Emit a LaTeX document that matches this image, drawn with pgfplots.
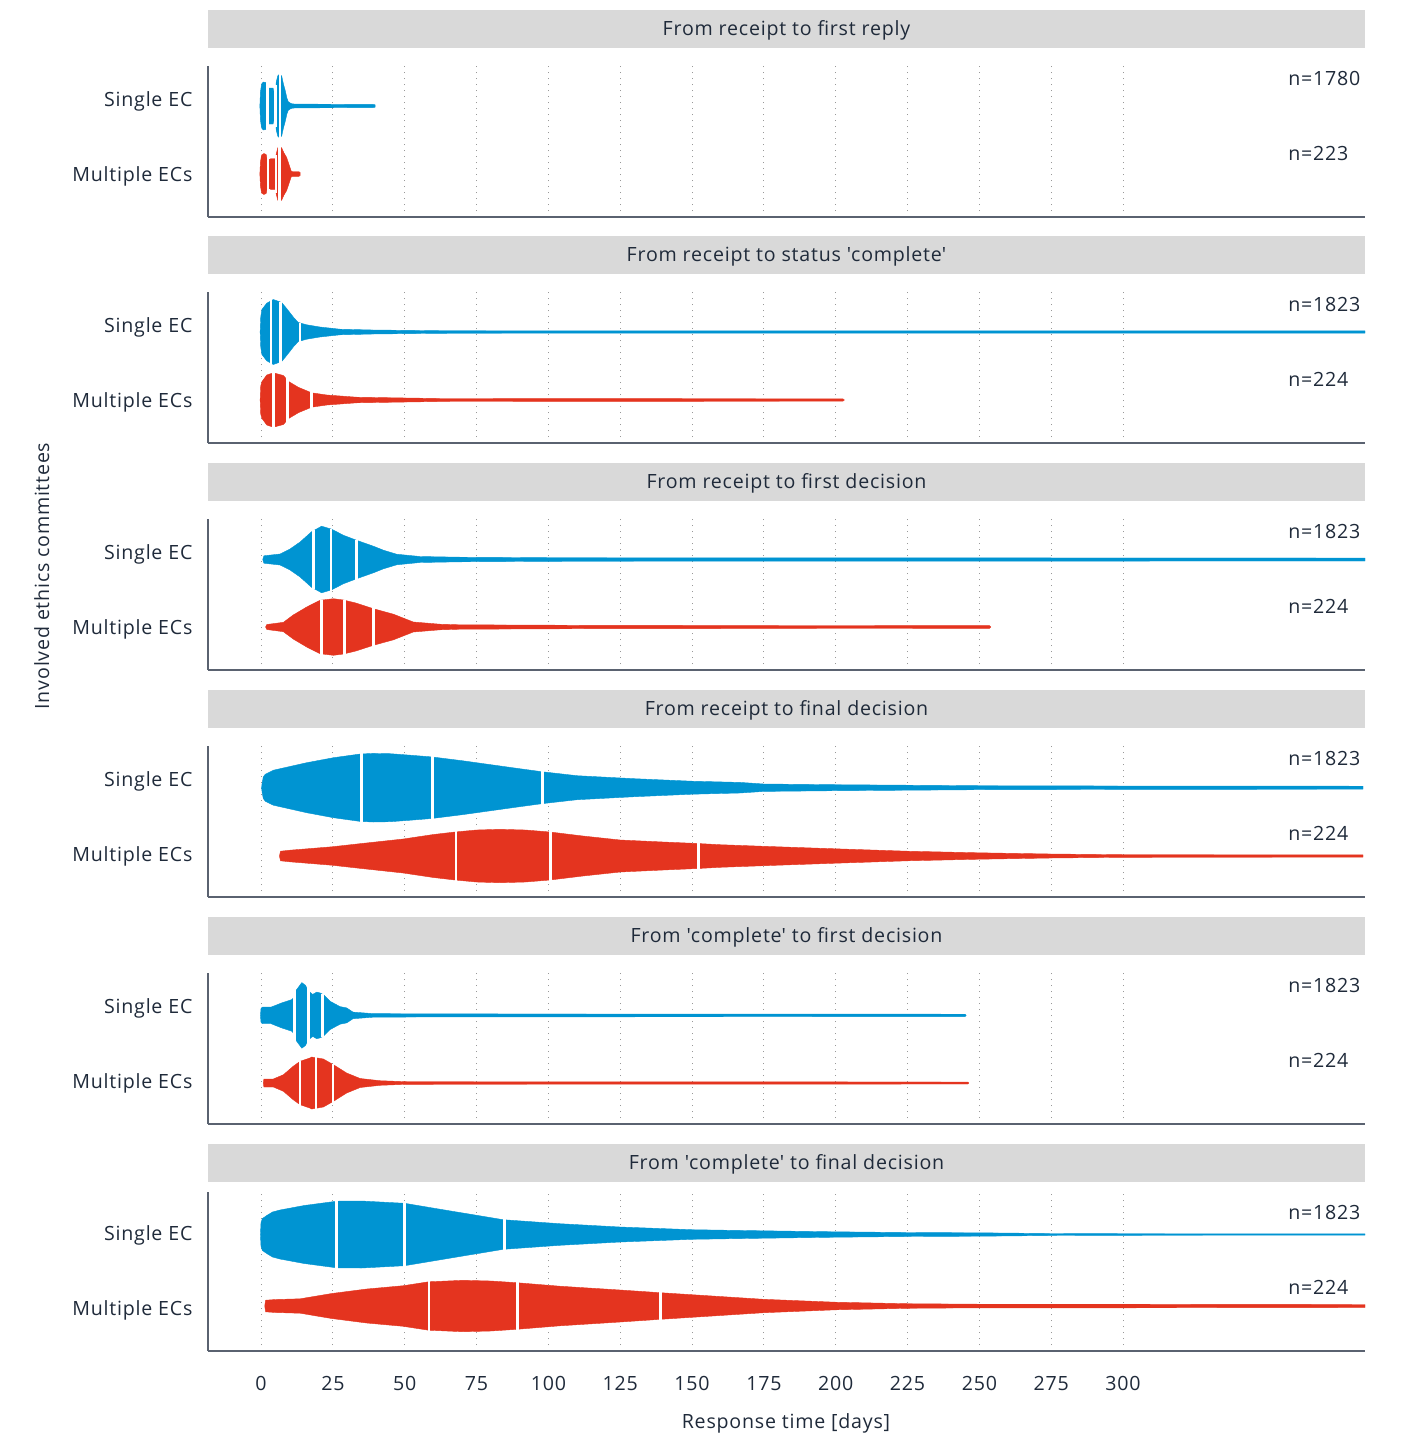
\documentclass[border=0pt]{standalone}
\usepackage{fontspec}
\setmainfont{Open Sans}[LetterSpace=4]
\usepackage{pgfplots}
\usepackage{pgfplotstable}
\pgfplotsset{compat=1.18}
\usepgfplotslibrary{fillbetween}

\definecolor{ecblue}{HTML}{0094D2}
\definecolor{ecred}{HTML}{E4341F}
\definecolor{txt}{HTML}{1F2A3A}
\definecolor{strip}{HTML}{D9D9D9}
\definecolor{axc}{HTML}{5A6270}

% half-widths of the violins (w) against response time in days (x)
\pgfplotstableread{
x w
-0.4 0
-0.2 14
0.2 22
0.8 24
1.6 23.5
2.1 21
2.3 18
4.2 18
4.5 14
5.0 14
5.3 24
5.8 30
6.5 32
7.2 30
7.8 22
8.4 15.8
9.0 8
9.5 4.2
10.5 2.4
11.5 2
20 1.8
39 1.6
39.7 1.2
}\vAb
\pgfplotstableread{
x w
-0.4 0
-0.2 12
0.2 19
1.0 20.5
1.8 19.5
2.1 15
3.0 14.7
3.4 15.3
5.0 15.3
5.3 20
5.8 26
6.5 28
7.2 26
8.0 21
8.9 16.7
9.8 9
10.5 3
11.0 2.3
13.2 2.3
13.6 1.5
}\vAr
\pgfplotstableread{
x w
-0.3 0
-0.1 15
0.3 22.5
2.0 28.8
4.3 32.5
7.2 29.5
8.5 25
10.1 19.2
11.5 14
13.0 9.5
15.9 7.2
20.5 5
27.5 2.8
39 2
62 1.3
100 1.2
384.2 1.2
}\vBb
\pgfplotstableread{
x w
-0.3 0
-0.1 14
0.3 18.3
2.0 25
4.3 27.2
7.8 24.5
9.5 18.7
13 12.7
17.6 7.2
22.9 5
33.3 2.8
50.7 2
62.3 1.5
150 1.3
202.5 1.2
203 0
}\vBr
\pgfplotstableread{
x w
0.6 0
1 3.7
6.6 5.5
10 10.3
13.6 17.5
17.6 27.8
21.1 33.3
24.6 30.3
28.7 24.2
33.3 19.2
39.1 13.3
42.6 9.3
47.2 5.3
55.3 3
69.3 2.3
100 1.8
200 1.6
384.2 1.5
}\vCb
\pgfplotstableread{
x w
1.6 0
2 2.5
7.8 4.7
11.2 12
15.9 20
20.5 26.7
25.2 28.3
28.7 27
33 24
39.1 18.3
46.1 12.8
53 5
62.3 2.8
69.3 2.2
120 1.6
253.5 1.4
254 0
}\vCr
\pgfplotstableread{
x w
0.2 0
0.4 5
0.8 10.8
1.5 13.5
4.3 17.5
15.9 25
25.2 30
34.5 33.7
39 34.3
45 34
52 32.5
59.4 30.8
70 27
80 23
90 19
97.7 16
110 12
130 9
150 6.5
166.7 5.3
175 3.7
200 3
250 2
300 1.7
383.5 1.5
}\vDb
\pgfplotstableread{
x w
6.4 0
6.8 4.8
10 5.8
24.6 9.2
35 12.5
49.5 17
60 21.5
67.5 24
75 26
83 26.7
92 26
100.6 24
112 20
125 16
140 14
152 12.5
159.8 11.3
175 9.7
200 7.2
225 4.8
250 3.2
275 2
300 1.3
383.5 1.2
}\vDr
\pgfplotstableread{
x w
-0.2 0
0 7
0.5 8.3
3.5 8.3
7.2 12.5
10.7 15.8
11.4 18
12.2 25
14.2 32.8
15.5 30
16.5 24
17 23.3
18 21
19.4 23.3
20.5 22.5
21.7 20.8
24 14.2
27.5 8.8
29.8 7.5
32 3.3
39 1.8
60 1.5
245 1.2
245.4 0
}\vEb
\pgfplotstableread{
x w
0.8 0
1 4
4.3 4
7.8 8.3
11.2 16.7
13.6 21.7
17 25
17.6 26
21.7 24
25.2 18.3
29.8 10
34.5 4.5
41.4 2.3
50.7 1.3
246 1.0
246.3 0
}\vEr
\pgfplotstableread{
x w
-0.2 0
0 12
0.5 16
2 19
4 22.5
6.6 24.5
15 29
26.3 33.3
35 33.5
50 31.2
65 24
84.3 14.8
104 10.8
125 7.5
150 4.8
175 3.7
200 2.7
225 2
250 1.7
275 1
300 0.8
384.2 0.6
}\vFb
\pgfplotstableread{
x w
1.3 0
1.6 5.8
5 6.5
13.6 7.2
24.6 12.5
36.8 17
49.5 20.3
58.3 24.2
70.3 25.7
80 25
89 23.3
104 19.8
125 16
139 13.3
150 11.3
175 6.7
200 3.8
225 2.3
250 1.8
300 1.8
384.2 1.5
}\vFr

\newcommand{\violin}[4]{% table, centre, colour, name
  \addplot[draw=none, name path=#4t] table[x=x, y expr=#2+\thisrow{w}] {#1};
  \addplot[draw=none, name path=#4b] table[x=x, y expr=#2-\thisrow{w}] {#1};
  \addplot[fill=#3, draw=#3, line width=0.2pt] fill between[of=#4t and #4b];
}
\newcommand{\qline}[3]{% position, centre, half height
  \addplot[white, line width=1.3pt] coordinates {(#1,{#2-#3}) (#1,{#2+#3})};
}
\newcommand{\nlab}[2]{\node[anchor=west, inner sep=0pt, text height=7pt, text depth=0pt] at (axis cs:357.4,#1) {#2};}

\pgfplotsset{
  panel/.style={
    scale only axis, width=578.5pt, height=75.5pt,
    anchor=south west,
    xmin=-18.45, xmax=384.2, ymin=0, ymax=151,
    axis x line*=bottom, axis y line*=left,
    axis line style={draw=axc, line width=0.8pt, -},
    xtick={0,25,...,300}, xticklabels={},
    ytick={43,118}, yticklabels={Multiple ECs,Single EC},
    major tick length=0pt,
    xmajorgrids,
    grid style={draw=gray!80, line width=0.5pt, dash pattern=on 0.6pt off 2.4pt},
    yticklabel style={inner sep=0pt, xshift=-7.6pt, text height=7pt, text depth=0pt},
    every axis title/.style={at={(0.5,1)}, anchor=south, yshift=9pt, fill=strip,
      minimum width=578.5pt, minimum height=19pt, inner sep=0pt,
      text height=7pt, text depth=0pt, text=txt},
    tick label style={font=\fontsize{9.8}{12}\selectfont, text=txt},
  },
}

\begin{document}
\begin{tikzpicture}[font=\fontsize{9.8}{12}\selectfont, text=txt]

\begin{axis}[panel, at={(104pt,-108.5pt)}, title={From receipt to first reply}]
  \violin{\vAb}{111}{ecblue}{Ab}
  \qline{2.3}{111}{23}
  \qline{5.1}{111}{21}
  \qline{6.6}{111}{33}
  \violin{\vAr}{43}{ecred}{Ar}
  \qline{2.4}{43}{20}
  \qline{5.2}{43}{19}
  \qline{6.5}{43}{29}
  \nlab{139}{n=1780}
  \nlab{64}{n=223}
\end{axis}

\begin{axis}[panel, at={(104pt,-221.5pt)}, title={From receipt to status \textquotesingle complete\textquotesingle}]
  \violin{\vBb}{111}{ecblue}{Bb}
  \qline{3.5}{111}{33}
  \qline{6.8}{111}{30.5}
  \qline{13.6}{111}{9.5}
  \violin{\vBr}{43}{ecred}{Br}
  \qline{4.3}{43}{28}
  \qline{9.2}{43}{22}
  \qline{17.6}{43}{8}
  \nlab{139}{n=1823}
  \nlab{64}{n=224}
\end{axis}

\begin{axis}[panel, at={(104pt,-335pt)}, title={From receipt to first decision}]
  \violin{\vCb}{110.5}{ecblue}{Cb}
  \qline{18.2}{110.5}{29.5}
  \qline{24.4}{110.5}{31}
  \qline{33.3}{110.5}{20}
  \violin{\vCr}{43}{ecred}{Cr}
  \qline{21.1}{43}{27.5}
  \qline{29}{43}{27.5}
  \qline{39.1}{43}{19}
  \nlab{139}{n=1823}
  \nlab{64}{n=224}
\end{axis}

\begin{axis}[panel, at={(104pt,-448.5pt)}, title={From receipt to final decision}]
  \violin{\vDb}{109.3}{ecblue}{Db}
  \qline{34.9}{109.3}{34.5}
  \qline{59.7}{109.3}{31.5}
  \qline{97.9}{109.3}{17}
  \violin{\vDr}{41}{ecred}{Dr}
  \qline{67.8}{41}{25}
  \qline{100.7}{41}{25}
  \qline{152.2}{41}{13.2}
  \nlab{139}{n=1823}
  \nlab{64}{n=224}
\end{axis}

\begin{axis}[panel, at={(104pt,-562pt)}, title={From \textquotesingle complete\textquotesingle{} to first decision}]
  \violin{\vEb}{108.6}{ecblue}{Eb}
  \qline{11.6}{108.6}{26}
  \qline{16.5}{108.6}{30}
  \qline{21.5}{108.6}{21.5}
  \violin{\vEr}{41}{ecred}{Er}
  \qline{13.6}{41}{22.5}
  \qline{19.1}{41}{26}
  \qline{25}{41}{19.5}
  \nlab{139}{n=1823}
  \nlab{64}{n=224}
\end{axis}

\begin{axis}[panel, at={(104pt,-675.5pt)}, height=79.5pt, ymax=159,
  every axis title/.append style={yshift=-4pt},
  title={From \textquotesingle complete\textquotesingle{} to final decision},
  xticklabels={0,25,50,75,100,125,150,175,200,225,250,275,300},
  xticklabel style={anchor=north, inner sep=0pt, yshift=-12.5pt, text height=7pt, text depth=0pt}]
  \violin{\vFb}{116.5}{ecblue}{Fb}
  \qline{26.3}{116.5}{34}
  \qline{50}{116.5}{32}
  \qline{84.7}{116.5}{15.5}
  \violin{\vFr}{45}{ecred}{Fr}
  \qline{58.4}{45}{25}
  \qline{89.2}{45}{24}
  \qline{139}{45}{14}
  \nlab{139}{n=1823}
  \nlab{64}{n=224}
\end{axis}

\node[text height=7pt, text depth=0pt, inner sep=0pt] at (393pt,-710.5pt) {Response time [days]};
\node[rotate=90, text height=7pt, text depth=0pt, inner sep=0pt] at (21pt,-288pt) {Involved ethics committees};
\path (0,0) rectangle (702.5pt,-718pt);
\end{tikzpicture}
\end{document}
